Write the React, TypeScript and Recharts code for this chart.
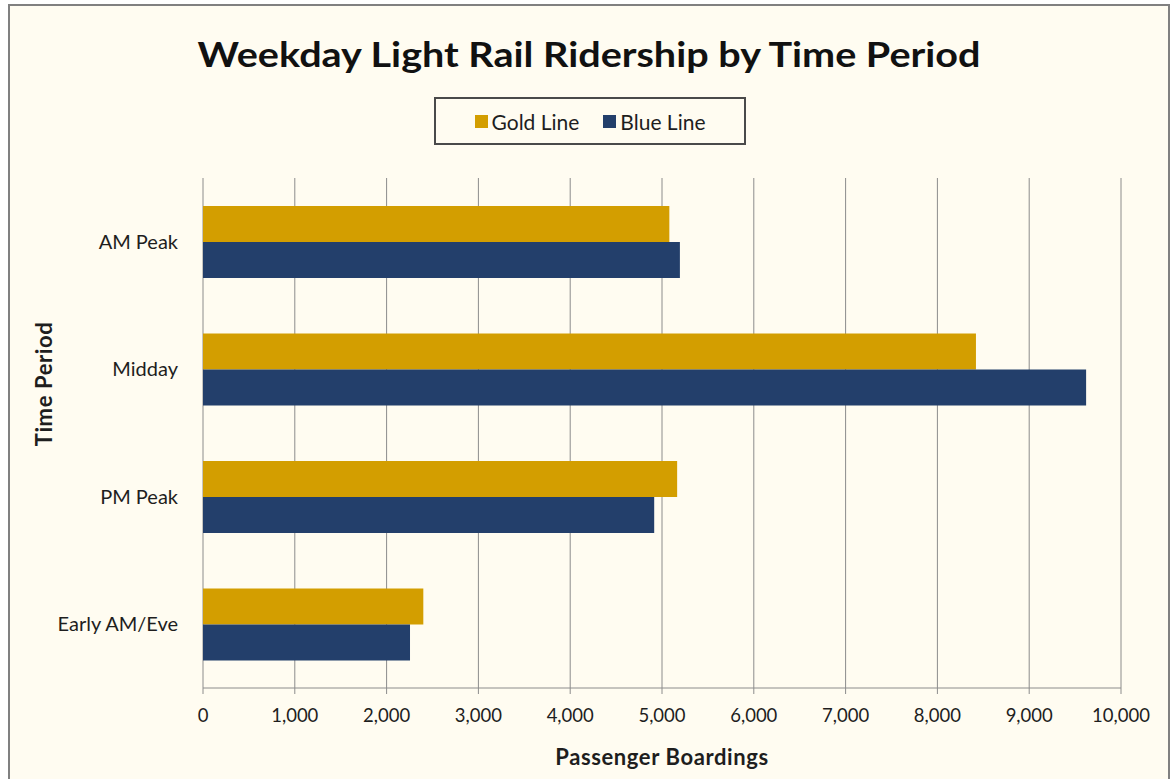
import React from 'react';
import { Bar, BarChart, CartesianGrid, Legend, XAxis, YAxis } from 'recharts';

const periods = ['AM Peak', 'Midday', 'PM Peak', 'Early AM/Eve'];
const goldLine = [5080, 8420, 5165, 2400];
const blueLine = [5195, 9620, 4915, 2255];
const xTicks = [0, 1000, 2000, 3000, 4000, 5000, 6000, 7000, 8000, 9000, 10000];
const edgeTicks = [0, 1, 2, 3, 4];

const data = periods.map((period, i) => ({ period, gold: goldLine[i], blue: blueLine[i] }));

const GOLD = '#D39E00';
const BLUE = '#233F6B';
const FONT = 'Lato, "Open Sans", sans-serif';
const INK = '#1e1e1e';

function LegendBox() {
  return (
    <div
      style={{
        width: 308,
        height: 44,
        border: '2px solid #4a4a4a',
        background: '#FFFCF1',
        display: 'flex',
        alignItems: 'center',
        justifyContent: 'center',
        gap: 24,
        fontFamily: FONT,
        fontSize: 21,
        color: INK,
      }}
    >
      <span style={{ display: 'flex', alignItems: 'center', gap: 4 }}>
        <span style={{ width: 13, height: 13, background: GOLD, display: 'inline-block' }} />
        Gold Line
      </span>
      <span style={{ display: 'flex', alignItems: 'center', gap: 4 }}>
        <span style={{ width: 13, height: 13, background: BLUE, display: 'inline-block' }} />
        Blue Line
      </span>
    </div>
  );
}

export default function App() {
  return (
    <div style={{ position: 'absolute', left: 0, top: 0, width: 1172, height: 779, background: '#ffffff', overflow: 'hidden' }}>
      <div
        style={{
          position: 'absolute',
          left: 8,
          top: 4,
          width: 1158,
          height: 790,
          border: '2px solid #808080',
          background: '#FFFCF1',
        }}
      />
      <svg style={{ position: 'absolute', left: 0, top: 0 }} width={1172} height={120}>
        <text
          x={589}
          y={67}
          textAnchor="middle"
          fontFamily={FONT}
          fontWeight="bold"
          fontSize={34}
          fill="#111"
          textLength={783}
          lengthAdjust="spacingAndGlyphs"
        >
          Weekday Light Rail Ridership by Time Period
        </text>
      </svg>
      <div style={{ position: 'absolute', left: 0, top: 0 }}>
        <BarChart
          width={1172}
          height={779}
          data={data}
          layout="vertical"
          margin={{ top: 178, right: 51, bottom: 0, left: 0 }}
          barCategoryGap={28}
          barGap={0}
          style={{ fontFamily: FONT }}
        >
          <CartesianGrid horizontal={false} stroke="#8c8c8c" strokeWidth={1} />
          <XAxis
            type="number"
            domain={[0, 10000]}
            ticks={xTicks}
            height={91}
            tickSize={6}
            tickMargin={15}
            axisLine={{ stroke: '#8c8c8c' }}
            tickLine={{ stroke: '#8c8c8c' }}
            tick={{ fill: INK, fontSize: 18.5 }}
            tickFormatter={(v) => v.toLocaleString('en-US')}
            label={{ value: 'Passenger Boardings', position: 'insideBottom', offset: 14, fill: INK, fontSize: 22, fontWeight: 'bold', letterSpacing: 0.6 }}
          />
          <YAxis
            yAxisId="edges"
            type="number"
            domain={[0, 4]}
            ticks={edgeTicks}
            width={0}
            tick={false}
            tickSize={6}
            axisLine={{ stroke: '#8c8c8c' }}
            tickLine={{ stroke: '#8c8c8c' }}
          />
          <YAxis
            type="category"
            dataKey="period"
            width={203}
            axisLine={false}
            tickLine={false}
            tickSize={6}
            tickMargin={19}
            tick={{ fill: INK, fontSize: 20 }}
            label={() => (
              <text
                x={52}
                y={384}
                transform="rotate(-90 52 384)"
                textAnchor="middle"
                fontFamily={FONT}
                fontWeight="bold"
                fontSize={22}
                letterSpacing={0.6}
                fill={INK}
              >
                Time Period
              </text>
            )}
          />
          <Legend
            layout="vertical"
            align="center"
            verticalAlign="middle"
            wrapperStyle={{ top: 97, left: 434, width: 312, height: 48 }}
            content={() => <LegendBox />}
          />
          <Bar dataKey="gold" name="Gold Line" fill={GOLD} isAnimationActive={false} />
          <Bar dataKey="blue" name="Blue Line" fill={BLUE} isAnimationActive={false} />
        </BarChart>
      </div>
    </div>
  );
}
